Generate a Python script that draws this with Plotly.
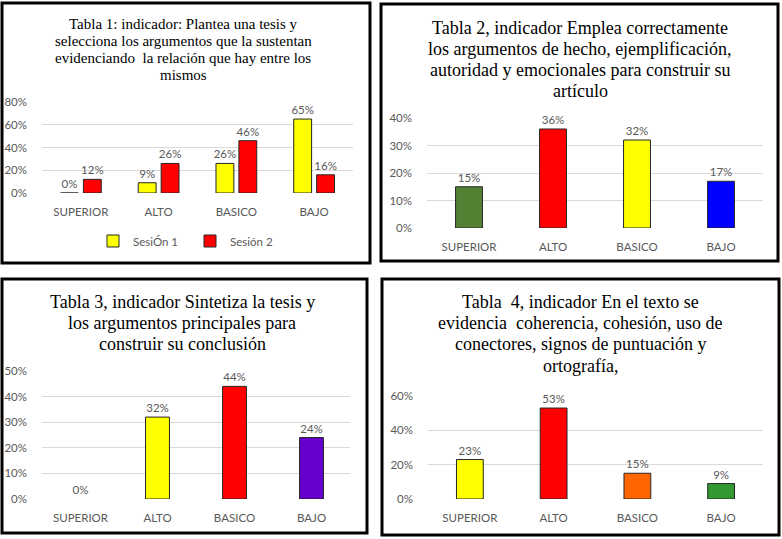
import plotly.graph_objects as go

W, H = 782, 539

categories = ["SUPERIOR", "ALTO", "BASICO", "BAJO"]

# Tabla 1
t1_title = ["Tabla 1: indicador: Plantea una tesis y",
            "selecciona los argumentos que la sustentan",
            "evidenciando  la relación que hay entre los",
            "mismos"]
t1_series_names = ["SesiÓn 1", "Sesión 2"]
t1_sesion1 = [0.00, 0.09, 0.26, 0.65]
t1_sesion2 = [0.12, 0.26, 0.46, 0.16]
t1_colors = ["#FFFF00", "#FF0000"]
t1_ticks = [0, 0.2, 0.4, 0.6, 0.8]

# Tabla 2
t2_title = ["Tabla 2, indicador Emplea correctamente",
            "los argumentos de hecho, ejemplificación,",
            "autoridad y emocionales para construir su",
            "artículo"]
t2_values = [0.15, 0.36, 0.32, 0.17]
t2_colors = ["#548235", "#FF0000", "#FFFF00", "#0000FF"]
t2_ticks = [0, 0.1, 0.2, 0.3, 0.4]

# Tabla 3
t3_title = ["Tabla 3, indicador Sintetiza la tesis y",
            "los argumentos principales para",
            "construir su conclusión"]
t3_values = [0.00, 0.32, 0.44, 0.24]
t3_colors = ["#FFFFFF", "#FFFF00", "#FF0000", "#6600CC"]
t3_ticks = [0, 0.1, 0.2, 0.3, 0.4, 0.5]

# Tabla 4
t4_title = ["Tabla  4, indicador En el texto se",
            "evidencia  coherencia, cohesión, uso de",
            "conectores, signos de puntuación y",
            "ortografía,"]
t4_values = [0.23, 0.53, 0.15, 0.09]
t4_colors = ["#FFFF00", "#FF0000", "#FF6600", "#339933"]
t4_ticks = [0, 0.2, 0.4, 0.6]

GRAY = "#595959"
GRID = "#D9D9D9"
FONTFAM = "Lato, Open Sans, sans-serif"
TICKFONT = dict(family=FONTFAM, size=11.5, color=GRAY)
SERIF = "Liberation Serif, Times New Roman, serif"
EDGE = "#262626"


def px_x(v):
    return v / W


def px_y(v):
    return 1 - v / H


fig = go.Figure()

# Panel 1 (grouped bars)
for vals, name, col, off in [
    (t1_sesion1, t1_series_names[0], t1_colors[0], -0.2625),
    (t1_sesion2, t1_series_names[1], t1_colors[1], 0.0325),
]:
    fig.add_trace(go.Bar(
        x=categories, y=vals, name=name,
        marker=dict(color=col, line=dict(color=EDGE, width=1)),
        width=0.23, offset=off,
        text=[f"{round(v*100)}%" for v in vals], textposition="outside",
        constraintext="none",
        textfont=dict(family=FONTFAM, size=11.5, color=GRAY),
        cliponaxis=False, xaxis="x", yaxis="y", showlegend=True,
    ))

# Panels 2-4
for vals, cols, ax, w in [
    (t2_values, t2_colors, "2", 0.32),
    (t3_values, t3_colors, "3", 0.31),
    (t4_values, t4_colors, "4", 0.32),
]:
    fig.add_trace(go.Bar(
        x=categories, y=vals,
        marker=dict(color=cols, line=dict(color=[EDGE if v > 0 else "rgba(0,0,0,0)" for v in vals], width=1)),
        width=w,
        text=[f"{round(v*100)}%" for v in vals], textposition="outside",
        constraintext="none",
        textfont=dict(family=FONTFAM, size=11.5, color=GRAY),
        cliponaxis=False, xaxis="x" + ax, yaxis="y" + ax, showlegend=False,
    ))

# Plot area geometry (pixels)
areas = {
    "": dict(x=(42, 353), y=(193, 102), ticks=t1_ticks),
    "2": dict(x=(427, 763), y=(228, 118), ticks=t2_ticks),
    "3": dict(x=(42, 350), y=(499, 371), ticks=t3_ticks),
    "4": dict(x=(428, 763), y=(499, 396), ticks=t4_ticks),
}

layout = dict(
    width=W, height=H,
    margin=dict(l=0, r=0, t=0, b=0, pad=0),
    paper_bgcolor="white", plot_bgcolor="white",
    barmode="overlay",
    showlegend=True,
    legend=dict(
        orientation="h", x=px_x(93), xanchor="left", y=px_y(241), yanchor="middle",
        font=dict(family=FONTFAM, size=11.5, color=GRAY),
        bgcolor="rgba(0,0,0,0)", itemwidth=30, traceorder="normal",
        entrywidth=52, entrywidthmode="pixels",
    ),
)

for key, a in areas.items():
    ticks = a["ticks"]
    layout["xaxis" + key] = dict(
        domain=[px_x(a["x"][0]), px_x(a["x"][1])],
        anchor="y" + key,
        showgrid=False, zeroline=False, showline=False,
        tickfont=TICKFONT, ticks="", ticklabelstandoff=10,
        fixedrange=True, automargin=False,
    )
    layout["yaxis" + key] = dict(
        domain=[px_y(a["y"][0]), px_y(a["y"][1])],
        anchor="x" + key,
        range=[0, ticks[-1]],
        tickvals=ticks,
        ticktext=[f"{round(t*100)}%" for t in ticks],
        showgrid=True, gridcolor=GRID, gridwidth=1,
        zeroline=False, showline=False,
        tickfont=TICKFONT, ticks="", ticklabelstandoff=14,
        fixedrange=True, automargin=False,
    )

fig.update_layout(**layout)

# Titles: one annotation per line
titles = [
    (t1_title, 183, [24, 41, 58, 75], 15),
    (t2_title, 580, [28, 49, 70, 91], 18),
    (t3_title, 182, [302, 323, 344], 18),
    (t4_title, 580, [302, 323, 344, 366], 18),
]
for lines, cx, ys, fs in titles:
    for txt, cy in zip(lines, ys):
        fig.add_annotation(
            text=txt, x=px_x(cx), y=px_y(cy), xref="paper", yref="paper",
            xanchor="center", yanchor="middle", showarrow=False, align="center",
            font=dict(family=SERIF, size=fs, color="#000000"),
        )

# Panel borders
borders = [(2, 3, 370, 263), (381, 4, 778, 261), (2, 279, 367, 533), (382, 279, 779, 535)]
for x0, y0, x1, y1 in borders:
    fig.add_shape(
        type="rect", xref="paper", yref="paper",
        x0=px_x(x0), x1=px_x(x1), y0=px_y(y0), y1=px_y(y1),
        line=dict(color="#000000", width=3), fillcolor="rgba(0,0,0,0)",
    )

fig.write_html("out.html", config={"displayModeBar": False},
               post_script="document.body.style.margin='0';")
